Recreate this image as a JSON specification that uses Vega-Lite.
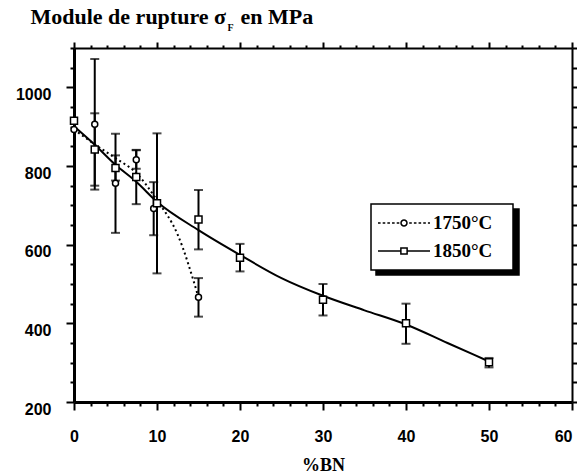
{
  "$schema": "https://vega.github.io/schema/vega-lite/v6.json",
  "width": 498,
  "height": 354,
  "autosize": {"type": "none"},
  "padding": {"left": 74, "top": 48, "right": 5, "bottom": 73},
  "background": "white",
  "config": {
    "view": {"stroke": null},
    "axis": {"domainColor": "black", "tickColor": "black", "labelColor": "black", "titleColor": "black", "grid": false},
    "legend": {"strokeWidth": 1.5}
  },
  "datasets": {
    "pts": [
      {"serie": "1850°C", "x": 0, "y": 915, "lo": null, "hi": null},
      {"serie": "1850°C", "x": 2.5, "y": 842, "lo": 750, "hi": 934},
      {"serie": "1850°C", "x": 5, "y": 795, "lo": 763, "hi": 827},
      {"serie": "1850°C", "x": 7.5, "y": 772, "lo": 703, "hi": 841},
      {"serie": "1850°C", "x": 10, "y": 705, "lo": 527, "hi": 883},
      {"serie": "1850°C", "x": 15, "y": 664, "lo": 588, "hi": 739},
      {"serie": "1850°C", "x": 20, "y": 567, "lo": 532, "hi": 602},
      {"serie": "1850°C", "x": 30, "y": 460, "lo": 420, "hi": 500},
      {"serie": "1850°C", "x": 40, "y": 400, "lo": 348, "hi": 450},
      {"serie": "1850°C", "x": 50, "y": 301, "lo": 288, "hi": 312},
      {"serie": "1750°C", "x": 0, "y": 893, "lo": null, "hi": null},
      {"serie": "1750°C", "x": 2.5, "y": 906, "lo": 740, "hi": 1072},
      {"serie": "1750°C", "x": 5, "y": 756, "lo": 630, "hi": 882},
      {"serie": "1750°C", "x": 7.5, "y": 816, "lo": 793, "hi": 840},
      {"serie": "1750°C", "x": 9.6, "y": 692, "lo": 624, "hi": 759},
      {"serie": "1750°C", "x": 15, "y": 466, "lo": 417, "hi": 515}
    ],
    "curves": [
      {"serie": "1850°C", "x": 0, "y": 901},
      {"serie": "1850°C", "x": 2.5, "y": 854},
      {"serie": "1850°C", "x": 5, "y": 803},
      {"serie": "1850°C", "x": 7.5, "y": 760},
      {"serie": "1850°C", "x": 10, "y": 709},
      {"serie": "1850°C", "x": 15, "y": 637},
      {"serie": "1850°C", "x": 20, "y": 574},
      {"serie": "1850°C", "x": 25, "y": 515},
      {"serie": "1850°C", "x": 30, "y": 470},
      {"serie": "1850°C", "x": 35, "y": 433},
      {"serie": "1850°C", "x": 40, "y": 397},
      {"serie": "1850°C", "x": 45, "y": 350},
      {"serie": "1850°C", "x": 50, "y": 303},
      {"serie": "1750°C", "x": 0, "y": 893},
      {"serie": "1750°C", "x": 2.5, "y": 855},
      {"serie": "1750°C", "x": 5, "y": 820},
      {"serie": "1750°C", "x": 7.5, "y": 782},
      {"serie": "1750°C", "x": 10, "y": 713},
      {"serie": "1750°C", "x": 12.5, "y": 625},
      {"serie": "1750°C", "x": 15, "y": 466}
    ]
  },
  "resolve": {"axis": {"x": "independent", "y": "independent"}},
  "layer": [
    {
      "data": {"name": "curves"},
      "transform": [{"filter": "datum.serie === '1850°C'"}],
      "mark": {"type": "line", "color": "black", "strokeWidth": 2, "interpolate": "monotone"},
      "encoding": {
        "x": {"field": "x", "type": "quantitative", "scale": {"domain": [0, 60], "nice": false, "zero": false},
          "axis": {"orient": "bottom", "values": [0,2,4,6,8,10,12,14,16,18,20,22,24,26,28,30,32,34,36,38,40,42,44,46,48,50,52,54,56,58,60],
            "labelExpr": "datum.value % 10 === 0 ? datum.label : ''", "labelOverlap": false, "labelFlush": false,
            "labelAlign": {"condition": {"test": "datum.value === 60", "value": "right"}, "value": "center"},
            "tickSize": {"condition": {"test": "datum.value % 10 === 0", "value": 8}, "value": 4},
            "tickWidth": 2, "domainWidth": 3,
            "labelFont": "Liberation Sans", "labelFontSize": 16, "labelFontWeight": "bold", "labelPadding": 18,
            "title": "%BN", "titleFont": "Liberation Serif", "titleFontSize": 18, "titleFontWeight": "bold", "titlePadding": 12}},
        "y": {"field": "y", "type": "quantitative", "scale": {"domain": [200, 1100], "nice": false, "zero": false},
          "axis": {"orient": "left", "values": [200,250,300,350,400,450,500,550,600,650,700,750,800,850,900,950,1000,1050,1100],
            "labelExpr": "datum.value % 200 === 0 ? datum.label : ''", "format": "d", "labelOverlap": false, "labelFlush": false,
            "tickSize": {"condition": {"test": "datum.value % 200 === 0", "value": 8}, "value": 4},
            "tickWidth": 2, "domainWidth": 3,
            "labelFont": "Liberation Sans", "labelFontSize": 16, "labelFontWeight": "bold", "labelPadding": 15, "labelOffset": 7,
            "title": "Module de rupture σ", "titleAngle": 0, "titleAlign": "left", "titleBaseline": "alphabetic",
            "titleX": -44, "titleY": -25, "titleFont": "Liberation Serif", "titleFontSize": 22, "titleFontWeight": "bold"}}
      }
    },
    {
      "data": {"name": "curves"},
      "transform": [{"filter": "datum.serie === '1750°C'"}],
      "mark": {"type": "line", "color": "black", "strokeWidth": 2, "strokeDash": [2, 3], "interpolate": "monotone"},
      "encoding": {
        "x": {"field": "x", "type": "quantitative", "scale": {"domain": [0, 60], "nice": false, "zero": false},
          "axis": {"orient": "top", "values": [0,2,4,6,8,10,12,14,16,18,20,22,24,26,28,30,32,34,36,38,40,42,44,46,48,50,52,54,56,58,60],
            "labels": false, "tickSize": {"condition": {"test": "datum.value % 10 === 0", "value": 6}, "value": 3},
            "tickWidth": 2, "domainWidth": 2,
            "title": "en MPa", "titleAngle": 0, "titleAlign": "left", "titleBaseline": "alphabetic", "titleAnchor": null,
            "titleX": 166, "titleY": -25, "titleFont": "Liberation Serif", "titleFontSize": 22, "titleFontWeight": "bold"}},
        "y": {"field": "y", "type": "quantitative", "scale": {"domain": [200, 1100], "nice": false, "zero": false},
          "axis": {"orient": "right", "values": [200,250,300,350,400,450,500,550,600,650,700,750,800,850,900,950,1000,1050,1100],
            "labels": false, "tickSize": 5, "tickWidth": 2, "domainWidth": 2,
            "title": "F", "titleAngle": 0, "titleAlign": "left", "titleBaseline": "alphabetic",
            "titleX": -345, "titleY": -18, "titleFont": "Liberation Serif", "titleFontSize": 10, "titleFontWeight": "bold"}}
      }
    },
    {
      "data": {"name": "pts"},
      "transform": [{"filter": "datum.lo != null"}],
      "mark": {"type": "rule", "color": "black", "strokeWidth": 2},
      "encoding": {
        "x": {"field": "x", "type": "quantitative", "axis": null},
        "y": {"field": "lo", "type": "quantitative", "axis": null},
        "y2": {"field": "hi"}
      }
    },
    {
      "data": {"name": "pts"},
      "transform": [{"filter": "datum.lo != null"}],
      "mark": {"type": "tick", "orient": "horizontal", "color": "black", "size": 9, "thickness": 2},
      "encoding": {
        "x": {"field": "x", "type": "quantitative", "axis": null},
        "y": {"field": "lo", "type": "quantitative", "axis": null}
      }
    },
    {
      "data": {"name": "pts"},
      "transform": [{"filter": "datum.hi != null"}],
      "mark": {"type": "tick", "orient": "horizontal", "color": "black", "size": 9, "thickness": 2},
      "encoding": {
        "x": {"field": "x", "type": "quantitative", "axis": null},
        "y": {"field": "hi", "type": "quantitative", "axis": null}
      }
    },
    {
      "data": {"name": "pts"},
      "transform": [{"filter": "datum.serie === '1750°C'"}],
      "mark": {"type": "point", "shape": "circle", "size": 36, "filled": false, "fill": "white", "fillOpacity": 1, "stroke": "black", "strokeWidth": 1.5, "opacity": 1},
      "encoding": {
        "x": {"field": "x", "type": "quantitative", "axis": null},
        "y": {"field": "y", "type": "quantitative", "axis": null}
      }
    },
    {
      "data": {"name": "pts"},
      "transform": [{"filter": "datum.serie === '1850°C'"}],
      "mark": {"type": "point", "shape": "square", "size": 49, "filled": false, "fill": "white", "fillOpacity": 1, "stroke": "black", "strokeWidth": 1.5, "opacity": 1},
      "encoding": {
        "x": {"field": "x", "type": "quantitative", "axis": null},
        "y": {"field": "y", "type": "quantitative", "axis": null}
      }
    },
    {
      "data": {"name": "pts"},
      "transform": [{"filter": "datum.x < -100"}],
      "mark": {"type": "point", "filled": false, "color": "black", "strokeWidth": 1.5},
      "encoding": {
        "shape": {"field": "serie", "type": "nominal",
          "scale": {"domain": ["1750°C", "1850°C"], "range": [
            "M-1,0H-0.9M-0.82,0H-0.72M-0.64,0H-0.54M-0.46,0H-0.36M-0.28,0H-0.18M0.115,0A0.115,0.115,0,1,1,-0.115,0A0.115,0.115,0,1,1,0.115,0M0.2,0H0.3M0.38,0H0.48M0.56,0H0.66M0.74,0H0.84M0.92,0H1",
            "M-1,0H-0.12M-0.12,-0.12H0.12V0.12H-0.12ZM0.12,0H1"]},
          "legend": {"title": null, "orient": "none", "legendX": 297, "legendY": 156, "padding": 6, "zindex": 5,
            "fillColor": "white", "strokeColor": "black",
            "symbolSize": 2704, "clipHeight": 26, "rowPadding": 2, "symbolStrokeWidth": 1.5, "symbolStrokeColor": "black", "symbolFillColor": "transparent", "symbolOpacity": 1,
            "labelFont": "Liberation Serif", "labelFontSize": 19, "labelFontWeight": "bold", "labelColor": "black", "labelOffset": 2,
            "labelExpr": "datum.label + '\u2800'"}},
        "color": {"field": "serie_s", "type": "nominal",
          "scale": {"domain": ["s1750°C", "s1850°C"], "range": ["black", "black"]},
          "legend": {"title": null, "orient": "none", "legendX": 302, "legendY": 161, "padding": 6, "zindex": 1,
            "fillColor": "black", "strokeColor": "black",
            "symbolSize": 2704, "clipHeight": 26, "rowPadding": 2, "symbolType": "circle",
            "labelFont": "Liberation Serif", "labelFontSize": 1, "labelColor": "black", "labelOffset": 76,
            "labelExpr": "'\u2800'"}}
      }
    }
  ]
}
